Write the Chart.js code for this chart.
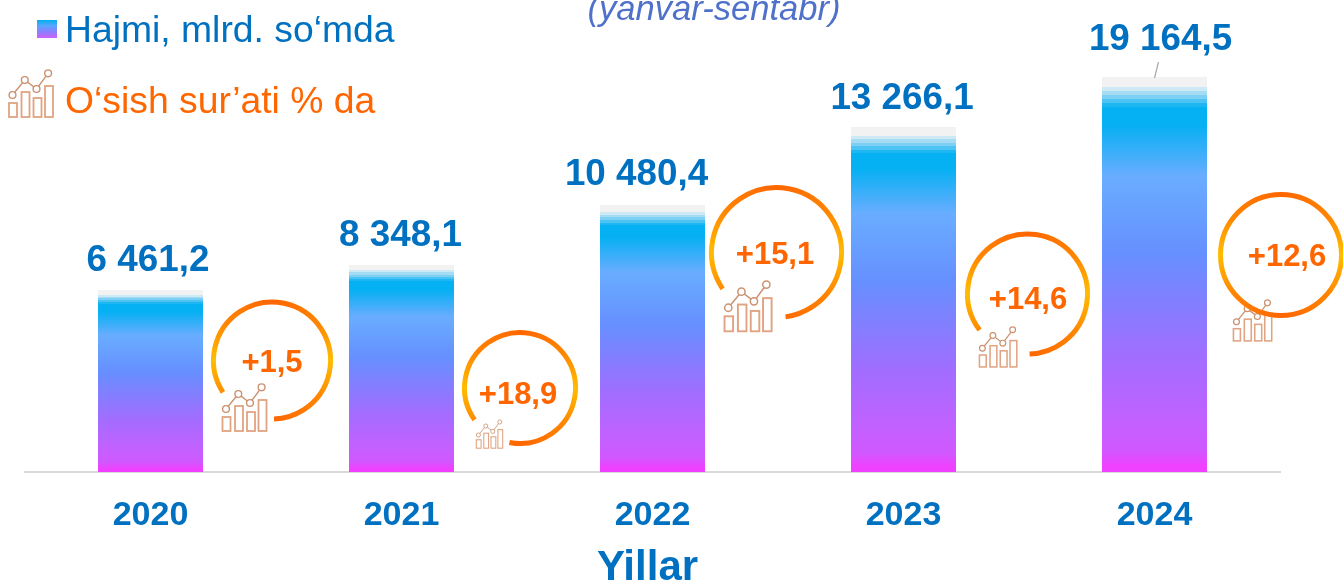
<!DOCTYPE html>
<html><head><meta charset="utf-8">
<script src="https://cdn.jsdelivr.net/npm/chart.js@4"></script>
<style>html,body{margin:0;padding:0;background:#fff;overflow:hidden}#w{position:relative;width:1343px;height:581px}canvas{display:block}</style>
</head><body><div id="w"><canvas id="c" width="1343" height="581"></canvas></div>
<script>
const categories = ['2020','2021','2022','2023','2024'];
// Printed values of the reference.
const valueLabels = ['6 461,2','8 348,1','10 480,4','13 266,1','19 164,5'];
// Bar lengths as drawn in the reference (not proportional to the printed values), in the units of the printed axis top.
const barLengths = [8830, 10043, 12954, 16738, 19164.5];
const growthLabels = ['+1,5','+18,9','+15,1','+14,6','+12,6'];
const axisTitle = 'Yillar';
const subTitle = '(yanvar-sentabr)';
const legendVolume = 'Hajmi, mlrd. so‘mda';
const legendGrowth = 'O‘sish sur’ati % da';

const FONT = '"Liberation Sans", Arial, sans-serif';
const BLUE = '#0070C0', ORANGE = '#FF6600';

// ring: centre, radius, gap angles (deg, clockwise from east), text centre, icon x, y, scale
const rings = [
  {cx:272,cy:360.5,r:58.5,a0:147,a1:88,tx:272,ty:363,ix:222,iy:384,s:1},
  {cx:520,cy:388,r:55.5,a0:145,a1:101,tx:518,ty:395,ix:476,iy:420,s:.6},
  {cx:776.5,cy:252.5,r:65,a0:146,a1:82,tx:775,ty:255,ix:724,iy:281,s:1.07},
  {cx:1027.5,cy:294,r:60,a0:143,a1:88,tx:1028,ty:300,ix:979,iy:327,s:.85},
  {cx:1281,cy:255,r:60.5,a0:0,a1:360,tx:1287,ty:257,ix:1233,iy:300,s:.87}
];

function icon(c,x,y,s){
  c.save(); c.translate(x,y); c.scale(s,s);
  c.strokeStyle='#E0A482'; c.lineWidth=1.8; c.fillStyle='#fff';
  [[.5,33,8,14],[13,22,8,25],[25,28,8,19],[36.5,16,8,31]].forEach(b=>c.strokeRect(b[0],b[1],b[2],b[3]));
  const p=[[4,25],[16.3,10],[28,19],[39.6,3.3]];
  c.strokeStyle='#CC9270'; c.lineWidth=1.4;
  c.beginPath(); p.forEach((q,i)=>i?c.lineTo(q[0],q[1]):c.moveTo(q[0],q[1])); c.stroke();
  p.forEach(q=>{c.beginPath();c.arc(q[0],q[1],3.4,0,7);c.fill();c.stroke();});
  c.restore();
}

const deco = {
  id:'deco',
  afterDraw(ch){
    const c=ch.ctx, x=ch.scales.x;
    c.save();
    c.textBaseline='middle'; c.textAlign='center';
    // value labels + leader
    c.font='bold 36.8px '+FONT; c.fillStyle=BLUE;
    const els=ch.getDatasetMeta(0).data;
    const above=[29,29,30,28,37], shift=[-2.5,-1,-16,-1.5,6];
    valueLabels.forEach((t,i)=>c.fillText(t,els[i].x+shift[i],els[i].y-above[i]));
    c.strokeStyle='#A6A6A6'; c.lineWidth=1.2;
    c.beginPath(); c.moveTo(els[4].x+4,62); c.lineTo(els[4].x,78); c.stroke();
    // subtitle
    c.font='italic 34.6px '+FONT; c.fillStyle='#4F71C9';
    c.fillText(subTitle,714,10.5);
    // legend
    c.textAlign='left';
    const g=c.createLinearGradient(0,20,0,38);
    g.addColorStop(0,'#00B0F0');g.addColorStop(.3,'#55A8FF');g.addColorStop(.65,'#8A80FF');g.addColorStop(1,'#CC60FF');
    c.fillStyle=g; c.fillRect(37,20,20,18);
    c.font='37.3px '+FONT; c.fillStyle=BLUE; c.fillText(legendVolume,65,32);
    c.fillStyle=ORANGE; c.fillText(legendGrowth,65,103);
    icon(c,8.5,70,1);
    // rings
    rings.forEach((r,i)=>{
      icon(c,r.ix,r.iy,r.s);
      const cg=c.createConicGradient(Math.PI/2,r.cx,r.cy);
      [[0,'#FF6600'],[.14,'#FF8400'],[.25,'#FFBC00'],[.36,'#FF8400'],[.5,'#FF6600'],[.64,'#FF8400'],[.75,'#FFBC00'],[.86,'#FF8400'],[1,'#FF6600']]
        .forEach(s=>cg.addColorStop(s[0],s[1]));
      c.strokeStyle=cg; c.lineWidth=5; c.lineCap='butt';
      c.beginPath();
      c.arc(r.cx,r.cy,r.r,r.a0*Math.PI/180,(r.a1+(r.a1<=r.a0?360:0))*Math.PI/180);
      c.stroke();
      c.font='bold 31px '+FONT; c.fillStyle=ORANGE; c.textAlign='center';
      c.fillText(growthLabels[i],r.tx,r.ty);
    });
    // category labels + axis title
    c.font='bold 34px '+FONT; c.fillStyle=BLUE;
    categories.forEach((t,i)=>c.fillText(t,x.getPixelForTick(i),516));
    c.font='bold 42px '+FONT; c.fillText(axisTitle,647.5,568);
    c.restore();
  }
};

new Chart(document.getElementById('c'),{
  type:'bar',
  data:{labels:categories,datasets:[{
    data:barLengths,
    barPercentage:105/251, categoryPercentage:1, borderWidth:0,
    backgroundColor(ctx){
      const ch=ctx.chart, sc=ch.scales.y;
      if(!ch.chartArea||!sc||ctx.dataIndex===undefined) return '#66AAFF';
      const top=sc.getPixelForValue(barLengths[ctx.dataIndex]), bot=sc.getPixelForValue(0);
      if(!isFinite(top)||!isFinite(bot)) return '#66AAFF';
      const g=ch.ctx.createLinearGradient(0,top,0,bot);
      [[0,'#F2F2F2'],[.026,'#F2F2F2'],[.026,'#CDE9F5'],[.036,'#CDE9F5'],[.036,'#A5DCF3'],[.046,'#A5DCF3'],[.046,'#7BD0F3'],[.056,'#7BD0F3'],[.056,'#4CC3F2'],[.066,'#4CC3F2'],[.066,'#1FB7F2'],[.076,'#1FB7F2'],
       [.076,'#05B0F3'],[.12,'#05B0F3'],[.25,'#69ADFF'],[.45,'#668FFF'],[.7,'#A06EFF'],[.88,'#C460FF'],[.945,'#D058FF'],[.985,'#F040FF'],[1,'#F040FF']]
       .forEach(s=>g.addColorStop(s[0],s[1]));
      return g;
    }
  }]},
  options:{
    responsive:false, animation:false,
    layout:{padding:{left:25,right:63,top:77,bottom:109}},
    plugins:{legend:{display:false},tooltip:{enabled:false}},
    scales:{
      x:{offset:true,grid:{display:false,drawTicks:false},border:{color:'#D9D9D9',width:2},ticks:{display:false}},
      y:{display:false,min:0,max:19164.5,grid:{display:false}}
    }
  },
  plugins:[deco]
});
</script></body></html>
